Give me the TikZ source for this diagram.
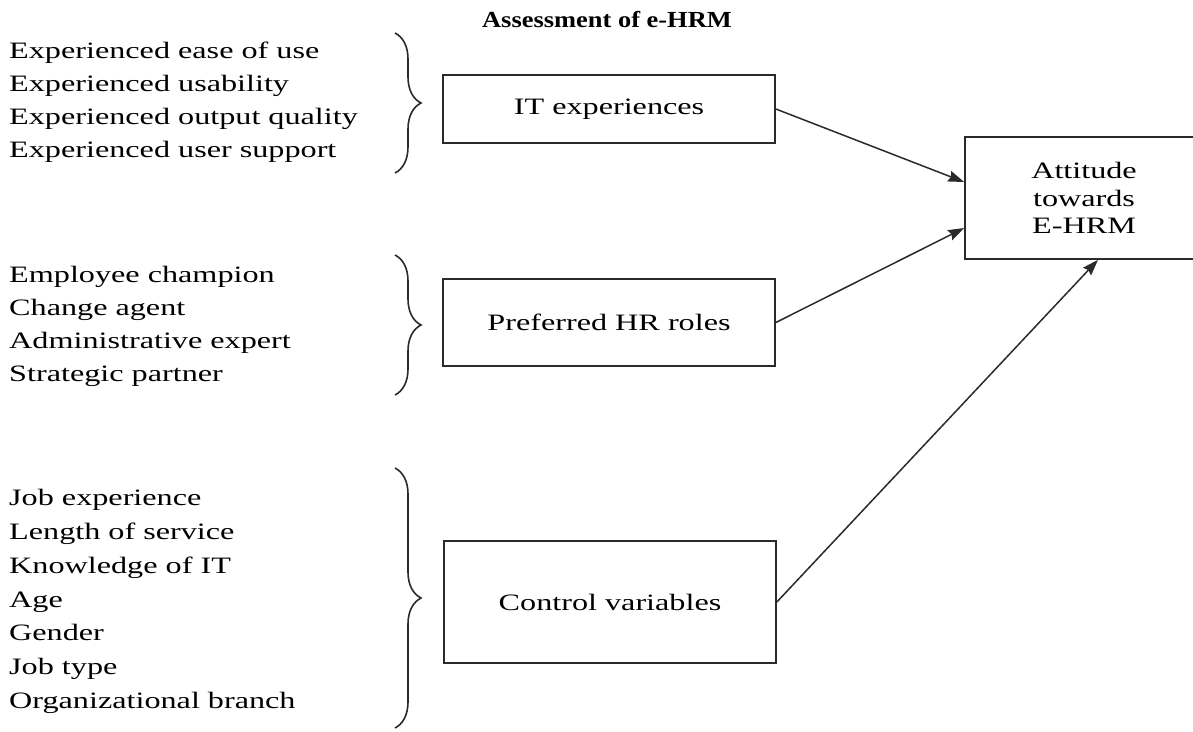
\documentclass[tikz,border=0pt]{standalone}
\usepackage{fontspec}
\setmainfont{Liberation Serif}[FakeStretch=1.37]
\newfontfamily\titlefont{Liberation Serif}[FakeStretch=1.15]
\usetikzlibrary{arrows.meta,decorations.pathreplacing}
\definecolor{ink}{HTML}{2A2A2A}
\tikzset{
  box/.style={draw=ink, line width=1.7pt, inner sep=0pt, align=center,
    font=\fontsize{23.5}{27.5}\selectfont},
  item/.style={anchor=base west, inner sep=0pt, font=\fontsize{23.5}{27.5}\selectfont},
  conn/.style={draw=ink, line width=1.5pt, -{Stealth[length=16pt,width=11pt,inset=2pt]}},
  brc/.style={draw=ink, decorate, decoration={brace, amplitude=26pt}, line width=1.6pt},
  ttl/.style={anchor=base, inner sep=0pt, font=\titlefont\bfseries\fontsize{23}{27}\selectfont}
}
\begin{document}
\begin{tikzpicture}[x=1pt,y=-1pt]
\useasboundingbox (0,0) rectangle (1193,731);
\node[ttl] (title) at (607,27) {Assessment of e-HRM};

% group 1
\node[item] (g1a) at (9,58) {Experienced ease of use};
\node[item] (g1b) at (9,91) {Experienced usability};
\node[item] (g1c) at (9,124) {Experienced output quality};
\node[item] (g1d) at (9,157) {Experienced user support};
\draw[brc] (395,33) -- (395,173);

% group 2
\node[item] (g2a) at (9,282) {Employee champion};
\node[item] (g2b) at (9,315) {Change agent};
\node[item] (g2c) at (9,348) {Administrative expert};
\node[item] (g2d) at (9,381) {Strategic partner};
\draw[brc] (395,255) -- (395,395);

% group 3
\node[item] (g3a) at (9,505) {Job experience};
\node[item] (g3b) at (9,539) {Length of service};
\node[item] (g3c) at (9,573) {Knowledge of IT};
\node[item] (g3d) at (9,607) {Age};
\node[item] (g3e) at (9,640) {Gender};
\node[item] (g3f) at (9,674) {Job type};
\node[item] (g3g) at (9,708) {Organizational branch};
\draw[brc] (395,468) -- (395,728);

% boxes
\node[box, minimum width=332pt, minimum height=68pt] (it) at (609,109) {IT experiences};
\node[box, minimum width=332pt, minimum height=87pt] (hr) at (609,322.5) {Preferred HR roles};
\node[box, minimum width=332pt, minimum height=122pt] (cv) at (610,602) {Control variables};
\node[box, minimum width=238pt, minimum height=122pt] (att) at (1084,198) {Attitude\\towards\\E-HRM};

% connectors
\draw[conn] (it.east) -- ([yshift=16pt]att.west);
\draw[conn] (hr.east) -- ([yshift=-30pt]att.west);
\draw[conn] (cv.east) -- ([xshift=14pt]att.south);
\end{tikzpicture}
\end{document}
